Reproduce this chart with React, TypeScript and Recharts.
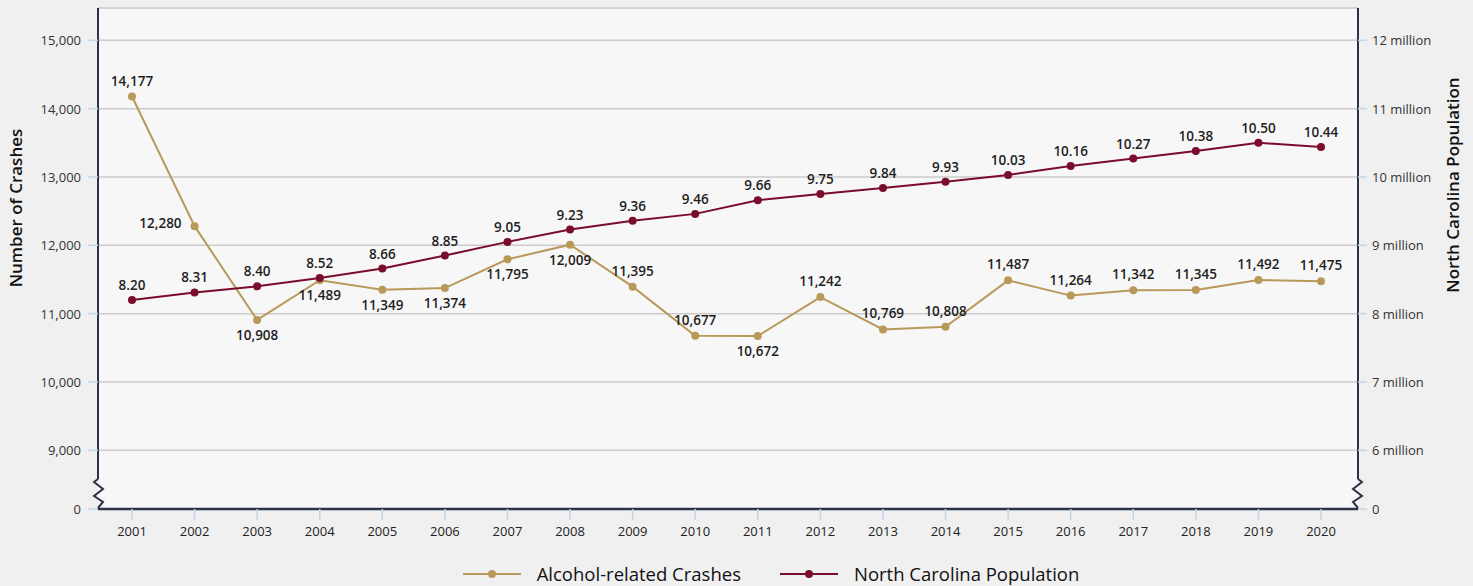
import React from 'react';
import { LineChart, Line, XAxis, YAxis, CartesianGrid, Legend, LabelList } from 'recharts';

// ---- data ----
const years = ['2001', '2002', '2003', '2004', '2005', '2006', '2007', '2008', '2009', '2010',
  '2011', '2012', '2013', '2014', '2015', '2016', '2017', '2018', '2019', '2020'];
const crashes = [14177, 12280, 10908, 11489, 11349, 11374, 11795, 12009, 11395, 10677,
  10672, 11242, 10769, 10808, 11487, 11264, 11342, 11345, 11492, 11475];
const population = [8.20, 8.31, 8.40, 8.52, 8.66, 8.85, 9.05, 9.23, 9.36, 9.46,
  9.66, 9.75, 9.84, 9.93, 10.03, 10.16, 10.27, 10.38, 10.50, 10.44];
const crashTicks = [9000, 10000, 11000, 12000, 13000, 14000, 15000];
const populationTicks = [6, 7, 8, 9, 10, 11, 12];
const crashLabelSide = ['top', 'left', 'bottom', 'bottom', 'bottom', 'bottom', 'bottom', 'bottom', 'top', 'top',
  'bottom', 'top', 'top', 'top', 'top', 'top', 'top', 'top', 'top', 'top'];

const data = years.map((year, i) => ({ year, crashes: crashes[i], population: population[i] }));

// ---- style ----
const CRASH_COLOR = '#b8995a';
const POP_COLOR = '#7a0c2c';
const AXIS_COLOR = '#2b3446';
const TICK_COLOR = '#c4d5e5';
const GRID_COLOR = '#cbcbcb';
const PLOT_BG = '#f7f7f7';
const PAGE_BG = '#f0f0f0';
const FONT = "'Open Sans', 'Noto Sans', sans-serif";

const WIDTH = 1473;
const HEIGHT = 586;

// axis break: the lowest tick stands for 0
const CRASH_BREAK = 8141;
const CRASH_TOP = 15473;
const POP_BREAK = 5.141;
const POP_TOP = 12.473;

const L_TICK = 10;
const L_MARGIN = 7;
const R_TICK = 9;
const R_MARGIN = 5;

const ZIG = [[0, -30], [-4, -27], [5, -20], [-4, -13], [5, -7], [0, -1]];

const Zigzag = ({ axisX, baseY, dir }: { axisX: number; baseY: number; dir: number }) => {
  const pts = ZIG.map(([dx, dy]) => `${axisX + dir * dx},${baseY + dy}`).join(' ');
  return (
    <g>
      <rect x={axisX - 1.6} y={baseY - 30} width={1.6} height={29} fill={dir > 0 ? PAGE_BG : PLOT_BG} />
      <rect x={axisX} y={baseY - 30} width={1.6} height={29} fill={dir > 0 ? PLOT_BG : PAGE_BG} />
      <polyline points={pts} fill="none" stroke={AXIS_COLOR} strokeWidth={2} strokeLinejoin="miter" />
    </g>
  );
};

const LeftTick = (props: any) => {
  const { x, y, payload } = props;
  const v = payload.value;
  const isBreak = v === CRASH_BREAK;
  const label = isBreak ? '0' : Number(v).toLocaleString('en-US');
  return (
    <g>
      {isBreak && <Zigzag axisX={x + L_TICK + L_MARGIN} baseY={y} dir={1} />}
      <text x={x} y={y} textAnchor="end" dominantBaseline="central" fontFamily={FONT} fontSize={13} fill="#333">
        {label}
      </text>
    </g>
  );
};

const RightTick = (props: any) => {
  const { x, y, payload } = props;
  const v = payload.value;
  const isBreak = v === POP_BREAK;
  const label = isBreak ? '0' : `${v} million`;
  return (
    <g>
      {isBreak && <Zigzag axisX={x - R_TICK - R_MARGIN} baseY={y} dir={-1} />}
      <text x={x} y={y} textAnchor="start" dominantBaseline="central" fontFamily={FONT} fontSize={13} fill="#333">
        {label}
      </text>
    </g>
  );
};

const BottomTick = (props: any) => {
  const { x, y, payload } = props;
  return (
    <text x={x} y={y} dy={9} textAnchor="middle" fontFamily={FONT} fontSize={13} fill="#222">
      {payload.value}
    </text>
  );
};

const renderCrashLabel = (props: any) => {
  const { x, y, value } = props;
  let index = props.index;
  if (index === undefined) index = crashes.indexOf(value);
  const side = crashLabelSide[index] || 'top';
  let tx = x;
  let ty = y;
  let anchor = 'middle';
  if (side === 'top') ty = y - 16;
  else if (side === 'bottom') ty = y + 15;
  else {
    tx = x - 13;
    ty = y - 3;
    anchor = 'end';
  }
  return (
    <text x={tx} y={ty} textAnchor={anchor} dominantBaseline="central" fontFamily={FONT} fontSize={13.5}
      fontWeight={600} fill="#1e1e1e">
      {Number(value).toLocaleString('en-US')}
    </text>
  );
};

const renderPopLabel = (props: any) => {
  const { x, y, value } = props;
  return (
    <text x={x} y={y - 15} textAnchor="middle" dominantBaseline="central" fontFamily={FONT} fontSize={13.5}
      fontWeight={600} fill="#1e1e1e">
      {Number(value).toFixed(2)}
    </text>
  );
};

const AxisTitle = (props: any) => {
  const { viewBox, side, text } = props;
  const vb = viewBox || {};
  const cx = side === 'left' ? (vb.x ?? 0) + 15 : (vb.x ?? 1358) + 94;
  const cy = side === 'left' ? (vb.y ?? 8) + 200 : (vb.y ?? 8) + 177;
  return (
    <text x={cx} y={cy} transform={`rotate(-90, ${cx}, ${cy})`} textAnchor="middle" dominantBaseline="central"
      fontFamily={FONT} fontSize={17} fontWeight={600} fill="#111">
      {text}
    </text>
  );
};

const renderLegend = (props: any) => {
  const payload = props.payload || [];
  return (
    <div style={{ display: 'flex', justifyContent: 'center', alignItems: 'center', gap: 39, paddingTop: 19,
      paddingLeft: 69, fontFamily: FONT }}>
      {payload.map((p: any) => (
        <div key={p.value} style={{ display: 'flex', alignItems: 'center' }}>
          <svg width={58} height={12} style={{ display: 'block' }}>
            <line x1={0} y1={6} x2={58} y2={6} stroke={p.color} strokeWidth={2} />
            <circle cx={29} cy={6} r={4} fill={p.color} />
          </svg>
          <span style={{ marginLeft: 16, fontSize: 18.5, fontWeight: 500, color: '#111', lineHeight: '18px' }}>
            {p.value}
          </span>
        </div>
      ))}
    </div>
  );
};

export default function App() {
  return (
    <div style={{ position: 'absolute', left: 0, top: 0, width: WIDTH, height: HEIGHT, background: PAGE_BG }}>
      <LineChart width={WIDTH} height={HEIGHT} data={data} margin={{ top: 8, right: 0, bottom: 0, left: 0 }}>
        <CartesianGrid yAxisId="crash" vertical={false} horizontal stroke={GRID_COLOR} strokeWidth={1.5}
          fill={PLOT_BG} />
        <XAxis dataKey="year" height={37} padding={{ left: 34, right: 37 }} tickSize={11} tickMargin={7}
          axisLine={{ stroke: AXIS_COLOR, strokeWidth: 2.5 }} tickLine={{ stroke: TICK_COLOR, strokeWidth: 1.5 }}
          tick={<BottomTick />} interval={0} />
        <YAxis yAxisId="crash" orientation="left" width={98} type="number"
          domain={[CRASH_BREAK, CRASH_TOP]} allowDataOverflow ticks={[CRASH_BREAK, ...crashTicks]} interval={0}
          tickSize={L_TICK} tickMargin={L_MARGIN} tick={<LeftTick />}
          axisLine={{ stroke: AXIS_COLOR, strokeWidth: 2 }} tickLine={{ stroke: TICK_COLOR, strokeWidth: 1.5 }}
          label={<AxisTitle side="left" text="Number of Crashes" />} />
        <YAxis yAxisId="pop" orientation="right" width={115} type="number"
          domain={[POP_BREAK, POP_TOP]} allowDataOverflow ticks={[POP_BREAK, ...populationTicks]} interval={0}
          tickSize={R_TICK} tickMargin={R_MARGIN} tick={<RightTick />}
          axisLine={{ stroke: AXIS_COLOR, strokeWidth: 2 }} tickLine={{ stroke: TICK_COLOR, strokeWidth: 1.5 }}
          label={<AxisTitle side="right" text="North Carolina Population" />} />
        <Legend verticalAlign="bottom" height={40} content={renderLegend} />
        <Line yAxisId="crash" type="linear" dataKey="crashes" name="Alcohol-related Crashes" stroke={CRASH_COLOR}
          strokeWidth={2} dot={{ r: 4, fill: CRASH_COLOR, stroke: CRASH_COLOR, strokeWidth: 0 }}
          activeDot={false} isAnimationActive={false}>
          <LabelList dataKey="crashes" content={renderCrashLabel} />
        </Line>
        <Line yAxisId="pop" type="linear" dataKey="population" name="North Carolina Population" stroke={POP_COLOR}
          strokeWidth={2} dot={{ r: 4, fill: POP_COLOR, stroke: POP_COLOR, strokeWidth: 0 }}
          activeDot={false} isAnimationActive={false}>
          <LabelList dataKey="population" content={renderPopLabel} />
        </Line>
      </LineChart>
    </div>
  );
}
